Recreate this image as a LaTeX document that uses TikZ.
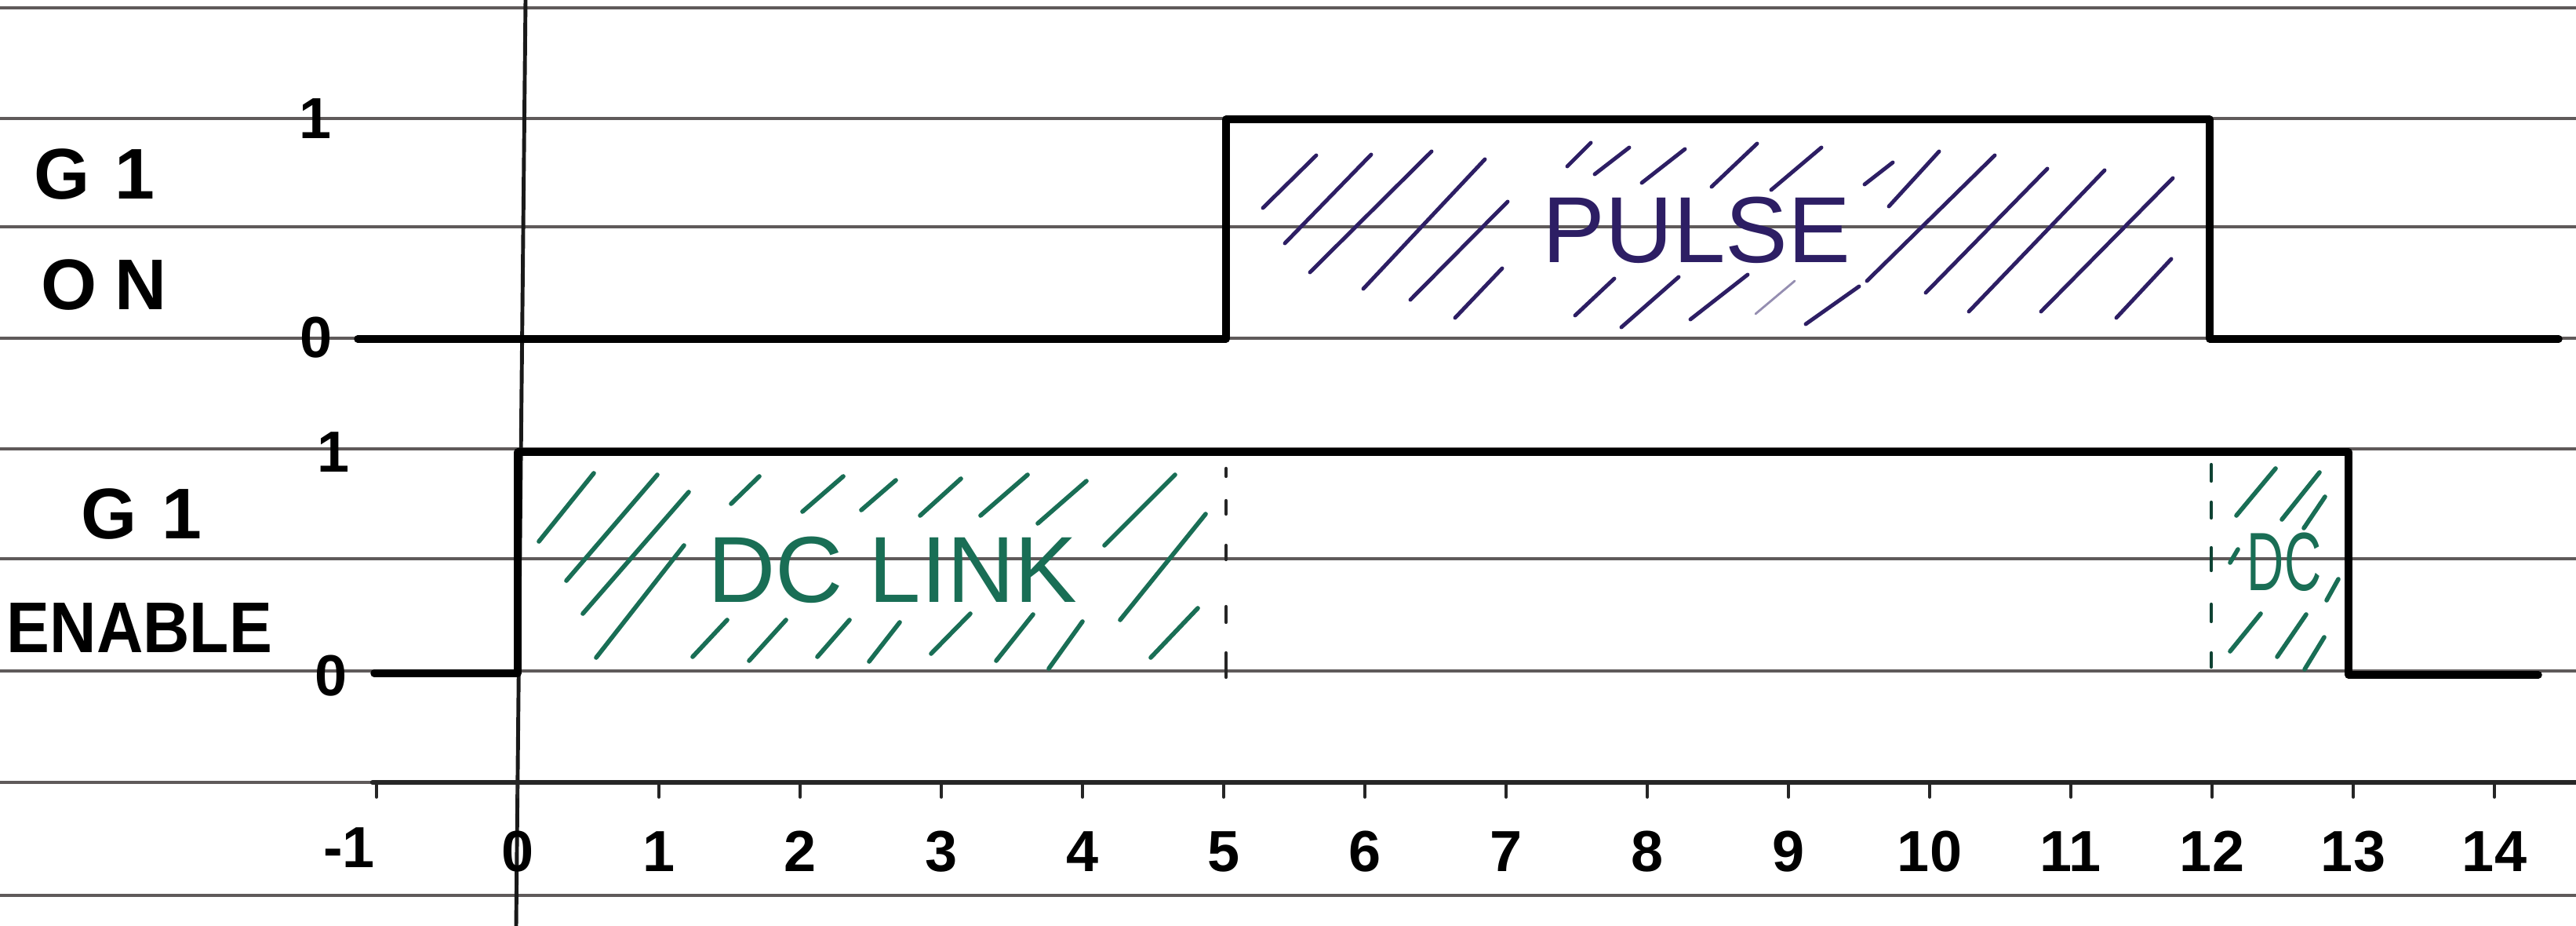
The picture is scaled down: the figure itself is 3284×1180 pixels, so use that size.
\documentclass[tikz,border=0pt]{standalone}
\usepackage{fontspec}
\setmainfont{Liberation Sans}
\usepackage{graphicx}
\definecolor{ruleink}{RGB}{95,90,90}
\definecolor{pulseink}{RGB}{45,30,100}
\definecolor{dcink}{RGB}{25,110,85}
\begin{document}
\begin{tikzpicture}[x=0.01cm,y=-0.01cm,line cap=round,line join=round]
\tikzset{
  ruled/.style={draw=ruleink,line width=0.9pt},
  margin/.style={draw=black!90,line width=1.4pt},
  axisline/.style={draw=black!85,line width=1.8pt},
  tickmark/.style={draw=black!85,line width=1pt},
  wave/.style={draw=black,line width=2.7pt},
  hatchP/.style={draw=pulseink,line width=1.4pt},
  hatchD/.style={draw=dcink,line width=1.6pt},
  dashmark/.style={draw=black!85,line width=1.2pt},
  sidelbl/.style={font=\fontsize{26}{28}\selectfont\bfseries,inner sep=0pt},
  lvl/.style={font=\fontsize{21}{24}\selectfont\bfseries,inner sep=0pt},
  tickl/.style={font=\fontsize{21}{24}\selectfont\bfseries,inner sep=0pt},
  bigtxt/.style={font=\fontsize{34}{38}\selectfont,inner sep=0pt}
}
\useasboundingbox[fill=white] (0,0) rectangle (3284,1180);

% ruled paper lines
\foreach \y in {10,151,289,431,572,712,855,997,1141}
  \draw[ruled] (0,\y) -- (3284,\y);
% margin line
\coordinate (mtop) at (670,0);
\coordinate (mbot) at (658,1180);
\draw[margin] (mtop) -- (mbot);

% time axis
\coordinate (axl) at (475,997);
\coordinate (axr) at (3284,997);
\draw[axisline] (axl) -- (axr);
\foreach \t in {-1,...,14}
  \draw[tickmark] ({660+180*\t},997) -- ++(0,19);
\node[tickl] (tlm1) at (445,1080) {-1};
\foreach \t in {0,...,14}
  \node[tickl] (tl\t) at ({660+180*\t},1085) {\t};

% side labels
\node[sidelbl] (g1a) at (120,222) {G\hspace{0.35em}1};
\node[sidelbl] (onl) at (133,363) {O\hspace{0.25em}N};
\node[sidelbl] (g1b) at (180,655) {G\hspace{0.35em}1};
\node[sidelbl] (enl) at (178,800) {\scalebox{0.9}[1]{ENABLE}};

% level labels
\node[lvl] (on1) at (402,151) {1};
\node[lvl] (on0) at (403,430) {0};
\node[lvl] (en1) at (425,576) {1};
\node[lvl] (en0) at (422,861) {0};

% G1 ON waveform
\coordinate (a0) at (456,432);
\coordinate (a1) at (1563,432);
\coordinate (a2) at (1563,152);
\coordinate (a3) at (2817,152);
\coordinate (a4) at (2817,432);
\coordinate (a5) at (3262,432);
\draw[wave] (a0) -- (a1) -- (a2) -- (a3) -- (a4) -- (a5);

% G1 ENABLE waveform
\coordinate (b0) at (477,858);
\coordinate (b1) at (660,858);
\coordinate (b2) at (660,576);
\coordinate (b3) at (2994,576);
\coordinate (b4) at (2994,860);
\coordinate (b5) at (3236,860);
\draw[wave] (b0) -- (b1) -- (b2) -- (b3) -- (b4) -- (b5);

% dashed markers
\foreach \a/\b in {597/607,638/655,695/713,773/793,832/863}
  \draw[dashmark] (1563,\a) -- (1563,\b);
\foreach \a/\b in {592/613,640/660,698/727,770/792,832/850}
  \draw[dashmark,draw=dcink!60!black] (2819,\a) -- (2819,\b);

% PULSE hatching
\foreach \xa/\ya/\xb/\yb in {
  1678/198/1610/265, 1748/197/1638/310, 1825/193/1670/347,
  1893/203/1738/368, 1922/257/1798/382, 1915/342/1855/405,
  2028/182/1998/212, 2077/188/2033/222, 2148/190/2093/233,
  2240/183/2182/238, 2322/188/2258/242, 2413/207/2377/235,
  2058/355/2008/402, 2140/353/2067/417, 2228/350/2155/407,
  2370/365/2302/413,
  2472/193/2408/263, 2543/198/2380/358, 2610/215/2455/373,
  2683/217/2510/397, 2770/227/2602/397, 2768/330/2698/405}
  \draw[hatchP] (\xa,\ya) -- (\xb,\yb);
\draw[hatchP,line width=0.8pt,opacity=0.5] (2288,358) -- (2238,400);
\node[bigtxt,text=pulseink] (pulse) at (2163,293) {PULSE};

% DC LINK hatching
\foreach \xa/\ya/\xb/\yb in {
  757/603/687/690, 838/605/722/740, 878/627/743/782, 872/695/760/838,
  968/607/932/642, 1075/607/1023/652, 1142/612/1098/650,
  1225/610/1173/657, 1310/605/1250/657, 1385/613/1323/667,
  1498/605/1408/695, 1537/655/1428/790,
  927/790/883/837, 1002/790/955/842, 1083/790/1042/837,
  1147/793/1108/843, 1237/782/1187/833, 1317/783/1270/842,
  1380/792/1337/852, 1527/775/1467/838}
  \draw[hatchD] (\xa,\ya) -- (\xb,\yb);
\node[bigtxt,text=dcink] (dclink) at (1138,726) {DC LINK};

% small DC hatching
\foreach \xa/\ya/\xb/\yb in {
  2901/597/2851/657, 2957/602/2909/662, 2964/633/2937/673,
  2853/700/2843/717, 2981/738/2966/765, 2882/782/2843/830,
  2940/783/2903/837, 2963/812/2938/853}
  \draw[hatchD] (\xa,\ya) -- (\xb,\yb);
\node[font=\fontsize{30}{32}\selectfont,inner sep=0pt,text=dcink] (dcs) at (2912,716) {\scalebox{0.62}[1]{DC}};
\end{tikzpicture}
\end{document}
